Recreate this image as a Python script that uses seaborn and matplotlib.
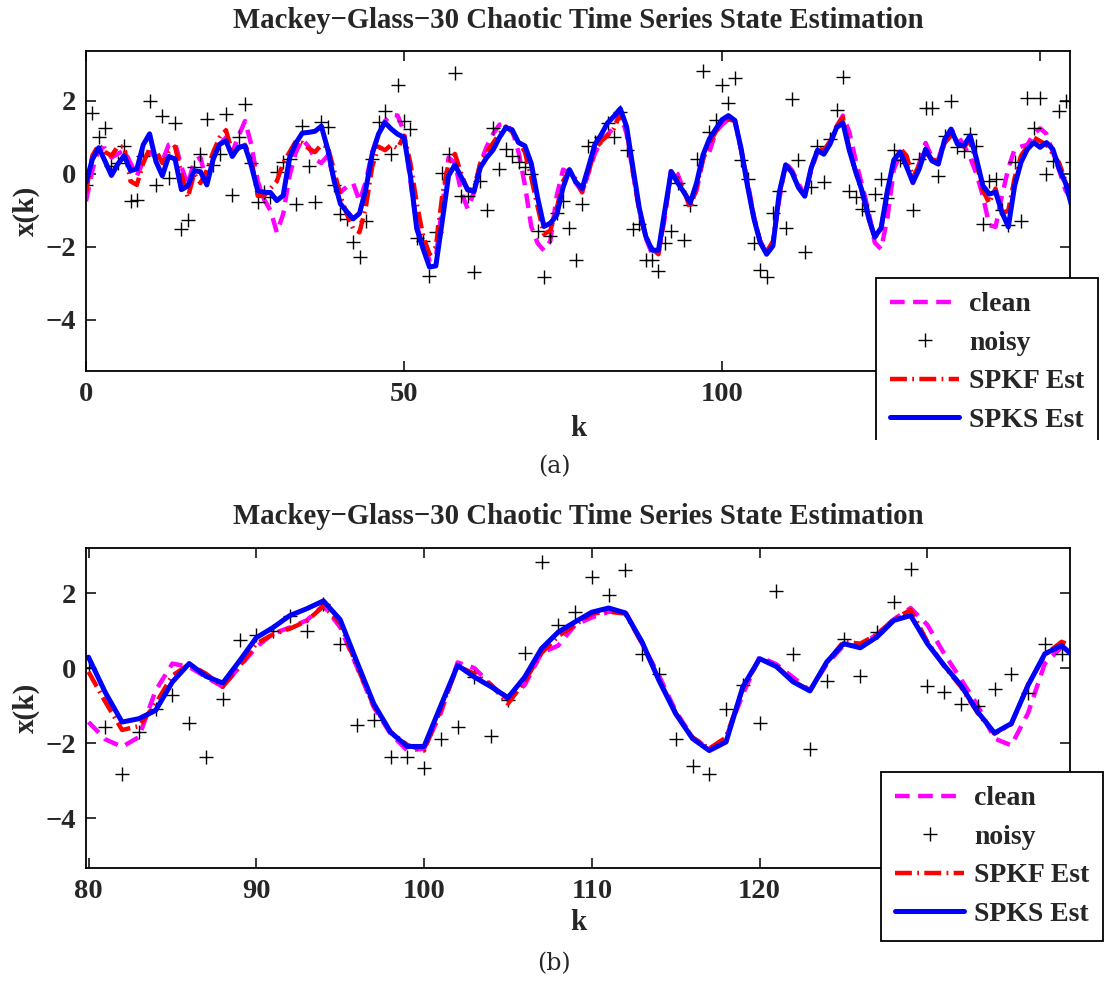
import numpy as np
import pandas as pd
import matplotlib
matplotlib.use("Agg")
import matplotlib.pyplot as plt
import seaborn as sns
from matplotlib.transforms import Bbox, TransformedBbox

# Values, one per step k = 0..155
clean = [
    -0.75, 0.10, 0.70, 0.70, 0.45, 0.55, 0.65, 0.30, -0.05, 0.35,
    0.60, 0.45, 0.35, 0.80, 0.85, 0.20, -0.30, 0.35, 0.45, -0.25,
    0.40, 0.80, 1.00, 0.60, 1.05, 1.45, 0.80, -0.20, -0.70, -1.00,
    -1.60, -1.10, -0.05, 0.60, 0.95, 0.75, 0.40, 0.30, 0.50, -0.15,
    -0.50, -0.35, -0.25, -0.75, -0.20, 0.60, 1.10, 1.45, 1.62, 1.60,
    1.15, -0.20, -1.40, -2.00, -2.35, -2.30, -0.90, 0.45, 0.30, -0.50,
    -0.95, -0.50, 0.30, 0.75, 1.10, 1.35, 1.35, 1.20, 0.60, -0.30,
    -1.44, -1.90, -2.10, -1.84, -0.60, 0.12, 0.03, -0.24, -0.50, 0.03,
    0.56, 0.92, 1.08, 1.27, 1.67, 1.09, 0.03, -1.04, -1.75, -2.20,
    -2.15, -1.20, 0.15, 0.00, -0.45, -0.85, -0.45, 0.40, 0.60, 1.15,
    1.35, 1.50, 1.50, 0.65, -0.20, -1.15, -1.85, -2.15, -1.85, -0.70,
    0.30, 0.10, -0.25, -0.60, 0.10, 0.60, 0.60, 0.90, 1.30, 1.60,
    1.15, 0.38, -0.30, -1.00, -1.88, -2.06, -1.20, 0.12, 0.56, 0.30,
    -0.25, 0.30, 0.85, 0.45, 0.40, 0.95, 1.20, 1.05, 0.80, 0.45,
    0.00, -0.60, -1.40, -1.45, -0.60, 0.15, 0.68, 0.75, 0.80, 1.10,
    1.25, 1.10, 0.60, 0.10, -0.45, -0.70,
]
noisy = [
    -0.30, 1.66, 1.00, 1.27, 0.21, 0.30, 0.78, -0.73, -0.70, 0.50,
    2.00, -0.30, 1.58, -0.12, 1.40, -1.50, -1.25, 0.20, 0.55, 1.50,
    0.25, 0.55, 1.64, -0.58, 1.00, 1.92, 0.30, -0.78, -0.50, -0.64,
    0.05, 0.32, 0.40, -0.82, 1.32, 0.21, -0.78, 1.42, 1.28, -0.30,
    -1.10, -1.23, -1.87, -2.28, -1.28, 0.41, 1.42, 1.73, 0.55, 2.45,
    1.45, 1.23, -1.75, -1.85, -2.80, -1.60, 0.02, 0.55, 2.77, -0.60,
    -0.60, -2.68, -0.18, -1.00, 1.27, 0.14, 0.68, 0.50, 0.32, 0.20,
    0.00, -1.56, -2.82, -1.71, -1.08, -0.73, -1.47, -2.37, -0.82, 0.76,
    0.87, 1.00, 1.40, 1.00, 1.70, 0.65, -1.51, -1.38, -2.36, -2.36,
    -2.67, -1.88, -1.56, -0.24, -1.82, -0.86, 0.40, 2.83, 1.14, 1.49,
    2.44, 1.94, 2.62, 0.38, -0.15, -1.88, -2.62, -2.82, -1.08, -0.46,
    -1.47, 2.05, 0.38, -2.15, -0.35, 0.78, -0.22, 0.95, 1.76, 2.65,
    -0.48, -0.64, -0.95, -1.01, -0.55, -0.15, -0.67, 0.65, 0.38, 0.30,
    -1.00, 0.40, 1.82, 1.82, -0.05, 1.05, 2.00, 0.73, 0.64, 1.10,
    0.77, -1.36, -0.18, -0.14, -1.00, -1.40, 0.34, -1.30, 2.09, 1.25,
    2.09, 0.00, 0.36, 1.73, 2.00, 0.32,
]
spkf_est = [
    -0.50, 0.50, 0.80, 0.60, 0.50, 0.75, 0.75, -0.20, -0.30, 0.30,
    0.70, 0.65, 0.30, 0.60, 0.75, 0.00, -0.65, 0.00, -0.25, 0.10,
    0.60, 1.00, 1.20, 0.60, 0.70, 0.80, 0.40, -0.60, -0.60, -0.40,
    -0.20, 0.30, 0.60, 0.90, 0.85, 0.70, 0.60, 0.80, 0.75, 0.10,
    -0.60, -1.10, -1.50, -1.60, -0.90, 0.20, 0.75, 0.65, 0.80, 0.70,
    1.05, 0.30, -0.80, -1.70, -2.20, -2.00, -0.60, 0.30, 0.55, 0.00,
    -0.45, -0.40, 0.30, 0.60, 0.85, 1.10, 1.30, 1.15, 0.90, 0.60,
    -0.10, -0.90, -1.65, -1.55, -0.95, -0.20, 0.10, -0.15, -0.50, 0.05,
    0.65, 0.90, 1.05, 1.25, 1.65, 1.20, 0.05, -1.00, -1.70, -2.05,
    -2.20, -1.10, 0.05, -0.15, -0.45, -0.95, -0.35, 0.40, 0.85, 1.15,
    1.45, 1.50, 1.45, 0.65, -0.30, -1.20, -1.85, -2.15, -1.85, -0.55,
    0.25, 0.05, -0.35, -0.60, 0.15, 0.70, 0.65, 0.90, 1.30, 1.55,
    0.70, 0.05, -0.50, -1.20, -1.75, -1.50, -0.45, 0.35, 0.70, 0.50,
    -0.10, 0.25, 0.60, 0.40, 0.35, 0.85, 1.05, 0.90, 0.75, 0.90,
    0.30, -0.45, -0.80, -0.40, -1.10, -1.00, -0.10, 0.50, 0.75, 1.00,
    0.90, 0.80, 0.55, 0.30, -0.20, -0.60,
]
spks_est = [
    -0.23, 0.40, 0.72, 0.35, -0.04, 0.27, 0.50, 0.09, 0.14, 0.80,
    1.10, 0.34, -0.05, 0.48, 0.41, -0.43, -0.33, 0.09, 0.06, -0.30,
    0.41, 0.81, 0.91, 0.48, 0.74, 0.76, 0.22, -0.46, -0.50, -0.51,
    -0.73, -0.59, 0.44, 0.85, 1.12, 1.14, 1.17, 1.31, 0.68, -0.18,
    -0.82, -1.03, -1.23, -1.08, -0.41, 0.55, 1.10, 1.41, 1.23, 1.09,
    1.00, -0.05, -1.50, -2.05, -2.55, -2.52, -1.30, -0.05, 0.25, -0.09,
    -0.43, -0.48, 0.18, 0.45, 0.66, 1.00, 1.27, 1.21, 0.86, 0.77,
    0.29, -0.65, -1.44, -1.35, -1.13, -0.37, 0.12, -0.22, -0.40, 0.19,
    0.81, 1.08, 1.40, 1.58, 1.79, 1.29, 0.16, -0.95, -1.71, -2.09,
    -2.09, -1.00, 0.07, -0.24, -0.50, -0.79, -0.24, 0.52, 0.96, 1.23,
    1.49, 1.60, 1.47, 0.69, -0.33, -1.22, -1.88, -2.20, -1.97, -0.50,
    0.25, 0.04, -0.37, -0.61, 0.16, 0.65, 0.54, 0.83, 1.27, 1.40,
    0.65, 0.07, -0.46, -1.17, -1.73, -1.48, -0.46, 0.38, 0.60, 0.20,
    -0.23, 0.14, 0.68, 0.36, 0.27, 0.95, 1.23, 0.82, 0.77, 1.05,
    0.41, -0.32, -0.55, -0.50, -1.05, -1.45, -0.32, 0.32, 0.68, 0.86,
    0.73, 0.86, 0.68, 0.14, -0.25, -0.90,
]

# the zoomed panel (b) shows steps 70..129 of the same run, labelled k + 10
zoom_start, zoom_stop, zoom_offset = 70, 130, 10

title = "Mackey\u2212Glass\u221230 Chaotic Time Series State Estimation"
labels = ["clean", "noisy", "SPKF Est", "SPKS Est"]
ticks_a = [0, 50, 100, 150]
ticks_b = [80, 90, 100, 110, 120, 130]

sns.set_theme(style="ticks")
plt.rcParams['font.family'] = ['Liberation Serif', 'DejaVu Serif']
plt.rcParams['font.weight'] = 'bold'
plt.rcParams['axes.linewidth'] = 1.3

W, H = 1108, 983
fig = plt.figure(figsize=(W / 100, H / 100), dpi=100)


def fx(px):
    return px / W


def fy(py):
    return 1 - py / H


def draw_panel(ax, df, xlim, xticks):
    sns.lineplot(data=df, x='k', y='clean', ax=ax, color='#ff00ff', lw=3.2,
                 linestyle=(0, (3.3, 1.9)), label=labels[0], errorbar=None, legend=False)
    sns.lineplot(data=df, x='k', y='noisy', ax=ax, color='black', linestyle='none',
                 marker='+', markersize=10, mew=1.0, mec='black', label=labels[1],
                 errorbar=None, legend=False)
    sns.lineplot(data=df, x='k', y='spkf', ax=ax, color='#ff0000', lw=3.2,
                 linestyle=(0, (3.8, 1.2, 0.4, 1.2)), label=labels[2], errorbar=None, legend=False)
    sns.lineplot(data=df, x='k', y='spks', ax=ax, color='#0000ff', lw=3.6,
                 label=labels[3], errorbar=None, legend=False)
    ax.set_xlim(*xlim)
    ax.set_xticks(xticks)
    # the last tick label sits under the legend box in the reference
    ax.set_xticklabels([str(v) for v in xticks[:-1]] + [''])
    ax.set_yticks([-4, -2, 0, 2])
    ax.set_xlabel('')
    ax.set_ylabel('')
    ax.tick_params(direction='in', length=7, width=1.1, top=True, right=True,
                   labelsize=20.5, color='black')
    ax.tick_params(axis='x', pad=8)
    ax.tick_params(axis='y', pad=7)
    for s in ax.spines.values():
        s.set_color('black')


k_all = np.arange(len(clean))
df_a = pd.DataFrame({'k': k_all, 'clean': clean, 'noisy': noisy,
                     'spkf': spkf_est, 'spks': spks_est})
df_b = df_a.iloc[zoom_start:zoom_stop].copy()
df_b['k'] = df_b['k'] + zoom_offset

panels = [
    # df, axes box (left, top, right, bottom) px, xlim, xticks, ylim, legend top-left px,
    # clip legend, title y, xlabel y, caption y, caption
    (df_a, (86, 51, 1070, 371), (0, 154.7), ticks_a, (-5.4, 3.37), (876, 278), True, 21, 428, 467, '(a)'),
    (df_b, (86, 548, 1070, 868), (79.85, 138.5), ticks_b, (-5.33, 3.2), (881, 772), False, 517, 923, 964, '(b)'),
]

for df, box, xlim, xticks, ylim, lg, clip, ty, ky, cy, cap in panels:
    l, t, r, b = box
    ax = fig.add_axes([fx(l), fy(b), fx(r) - fx(l), fy(t) - fy(b)])
    draw_panel(ax, df, xlim, xticks)
    ax.set_ylim(*ylim)
    fig.text(fx((l + r) / 2), fy(ty), title, ha='center', va='center', fontsize=20.7)
    fig.text(fx((l + r) / 2), fy(ky), 'k', ha='center', va='center', fontsize=21)
    fig.text(fx(26), fy((t + b) / 2), 'x(k)', ha='center', va='center', rotation=90, fontsize=21)
    fig.text(fx(554), fy(cy), cap, ha='center', va='center', fontsize=17,
             fontweight='normal', family=['DejaVu Serif'])
    leg = ax.legend(handles=ax.get_lines()[:4], labels=labels, loc='upper left',
                    bbox_to_anchor=(fx(lg[0]), fy(lg[1])), bbox_transform=fig.transFigure,
                    frameon=True, fancybox=False, framealpha=1, edgecolor='black',
                    facecolor='white', fontsize=20, handlelength=2.5, handletextpad=0.35,
                    labelspacing=0.47, borderpad=0.5, borderaxespad=0)
    leg.get_frame().set_linewidth(1.3)
    if clip:
        # panel (a) was cropped in the source, cutting off the legend's right and bottom edges
        frame = leg.get_frame()
        frame.set_clip_box(TransformedBbox(Bbox.from_extents(0, fy(440), fx(1103), 1),
                                           fig.transFigure))
        frame.set_clip_on(True)

fig.savefig('out.png', dpi=100)
